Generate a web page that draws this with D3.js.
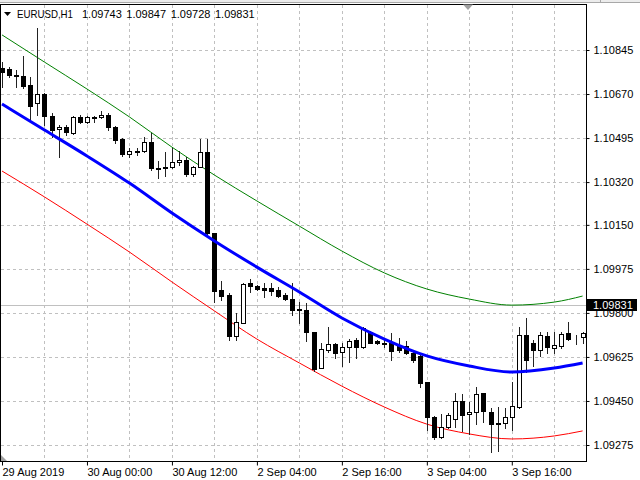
<!DOCTYPE html>
<meta charset="utf-8">
<script src="https://d3js.org/d3.v7.min.js"></script>
<style>
  body { margin: 0; background: #fff; }
  text { font-family: "Liberation Sans", Arial, sans-serif; font-size: 11px; fill: #000; }
</style>
<svg id="chart" width="640" height="480"></svg>
<script>

// hourly OHLC bars, left to right
var openPrices = [1.10773,1.10770,1.10746,1.10742,1.10706,1.10634,1.10670,1.10583,1.10531,1.10539,
  1.10515,1.10579,1.10559,1.10579,1.10579,1.10587,1.10539,1.10491,1.10432,1.10444,
  1.10444,1.10479,1.10376,1.10380,1.10380,1.10400,1.10408,1.10352,1.10380,1.10440,
  1.10118,1.09891,1.09871,1.09708,1.09760,1.09919,1.09907,1.09899,1.09899,1.09891,
  1.09871,1.09855,1.09815,1.09811,1.09724,1.09581,1.09652,1.09676,1.09645,1.09664,
  1.09692,1.09664,1.09724,1.09688,1.09680,1.09680,1.09672,1.09668,1.09641,1.09629,
  1.09525,1.09386,1.09307,1.09346,1.09378,1.09450,1.09398,1.09406,1.09482,1.09406,
  1.09358,1.09362,1.09386,1.09426,1.09712,1.09680,1.09652,1.09708,1.09660,1.09668,
  1.09720,1.09700,1.09704];
var highPrices = [1.10797,1.10777,1.10766,1.10821,1.10738,1.10933,1.10674,1.10595,1.10547,1.10547,
  1.10583,1.10587,1.10583,1.10583,1.10603,1.10595,1.10543,1.10495,1.10455,1.10455,
  1.10499,1.10515,1.10404,1.10440,1.10455,1.10444,1.10420,1.10384,1.10491,1.10491,
  1.10118,1.09927,1.09879,1.09800,1.09919,1.09935,1.09911,1.09919,1.09919,1.09903,
  1.09879,1.09919,1.09843,1.09839,1.09724,1.09680,1.09744,1.09680,1.09680,1.09696,
  1.09700,1.09744,1.09728,1.09692,1.09692,1.09720,1.09700,1.09688,1.09652,1.09641,
  1.09525,1.09390,1.09398,1.09402,1.09482,1.09478,1.09446,1.09505,1.09482,1.09422,
  1.09426,1.09422,1.09525,1.09744,1.09780,1.09692,1.09724,1.09724,1.09724,1.09724,
  1.09764,1.09712,1.09724];
var lowPrices = [1.10698,1.10738,1.10698,1.10694,1.10567,1.10587,1.10547,1.10499,1.10420,1.10507,
  1.10511,1.10555,1.10555,1.10559,1.10575,1.10527,1.10475,1.10424,1.10420,1.10428,
  1.10440,1.10368,1.10336,1.10344,1.10376,1.10388,1.10344,1.10344,1.10380,1.10110,
  1.09843,1.09851,1.09692,1.09692,1.09760,1.09883,1.09891,1.09863,1.09871,1.09863,
  1.09851,1.09792,1.09760,1.09688,1.09569,1.09581,1.09645,1.09621,1.09589,1.09605,
  1.09621,1.09660,1.09680,1.09676,1.09664,1.09613,1.09645,1.09637,1.09605,1.09505,
  1.09335,1.09299,1.09303,1.09343,1.09346,1.09331,1.09319,1.09358,1.09366,1.09247,
  1.09251,1.09343,1.09335,1.09422,1.09565,1.09589,1.09629,1.09641,1.09641,1.09660,
  1.09692,1.09676,1.09680];
var closePrices = [1.10758,1.10746,1.10742,1.10702,1.10622,1.10670,1.10583,1.10527,1.10539,1.10519,
  1.10579,1.10559,1.10579,1.10575,1.10587,1.10539,1.10487,1.10432,1.10444,1.10440,
  1.10479,1.10376,1.10372,1.10376,1.10400,1.10408,1.10352,1.10380,1.10440,1.10118,
  1.09887,1.09867,1.09708,1.09764,1.09915,1.09907,1.09895,1.09891,1.09887,1.09867,
  1.09855,1.09811,1.09811,1.09724,1.09577,1.09656,1.09676,1.09641,1.09664,1.09688,
  1.09664,1.09740,1.09680,1.09680,1.09676,1.09648,1.09652,1.09641,1.09613,1.09521,
  1.09386,1.09307,1.09346,1.09394,1.09450,1.09394,1.09406,1.09478,1.09410,1.09358,
  1.09362,1.09386,1.09430,1.09712,1.09613,1.09652,1.09712,1.09664,1.09672,1.09716,
  1.09696,1.09700,1.09720];

// channel lines, read every 6 bars
var lineBars  = [0,6,12,18,24,30,36,42,48,54,60,66,72,78,82];
var midLine   = [1.10630,1.10527,1.10424,1.10316,1.10197,1.10086,1.09982,1.09883,1.09780,1.09696,1.09629,1.09589,1.09565,1.09581,1.09601];
var upperLine = [1.10905,1.10797,1.10690,1.10579,1.10459,1.10348,1.10245,1.10145,1.10046,1.09959,1.09895,1.09855,1.09831,1.09843,1.09867];
var lowerLine = [1.10364,1.10261,1.10153,1.10042,1.09923,1.09808,1.09696,1.09601,1.09509,1.09426,1.09358,1.09319,1.09299,1.09311,1.09331];

// axes
var priceTicks = [1.10845,1.10670,1.10495,1.10320,1.10150,1.09975,1.09800,1.09625,1.09450,1.09275];
var timeBars = [0,12,24,36,48,60,72];
var timeLabels = ["29 Aug 2019","30 Aug 00:00","30 Aug 12:00","2 Sep 04:00","2 Sep 16:00","3 Sep 04:00","3 Sep 16:00"];
var gridBars = [6,12,18,24,30,36,42,48,54,60,66,72,78];

var symbol = "EURUSD,H1";
var headerValues = ["1.09743","1.09847","1.09728","1.09831"];
var lastPrice = 1.09831;

var plotLeft = 0.5, plotTop = 4.5, plotRight = 586.5, plotBottom = 461.5;

var svg = d3.select("#chart");

var x = d3.scaleLinear().domain([0, 82]).range([2, 582.6]);
var y = d3.scaleLinear().domain([1.09275, 1.10845]).range([445, 50]);

// window strip above the chart
svg.append("rect").attr("x", 0).attr("y", 0).attr("width", 640).attr("height", 2).attr("fill", "#ececec");
svg.append("line").attr("x1", 0).attr("x2", 640).attr("y1", 2.5).attr("y2", 2.5)
  .attr("stroke", "#a8a8a8").attr("shape-rendering", "crispEdges");
svg.append("line").attr("x1", 600.5).attr("x2", 600.5).attr("y1", 0).attr("y2", 2)
  .attr("stroke", "#a8a8a8").attr("shape-rendering", "crispEdges");

svg.append("clipPath").attr("id", "plot")
  .append("rect").attr("x", plotLeft).attr("y", plotTop)
  .attr("width", plotRight - plotLeft).attr("height", plotBottom - plotTop);

// grid
var grid = svg.append("g").attr("stroke", "#c0c0c0").attr("stroke-dasharray", "3,3").attr("shape-rendering", "crispEdges");
grid.selectAll(".h").data(priceTicks).enter().append("line")
  .attr("x1", plotLeft).attr("x2", plotRight)
  .attr("y1", function(d) { return Math.round(y(d)) + 0.5; })
  .attr("y2", function(d) { return Math.round(y(d)) + 0.5; });
grid.selectAll(".v").data(gridBars).enter().append("line")
  .attr("y1", plotTop).attr("y2", plotBottom)
  .attr("x1", function(d) { return Math.round(x(d)) + 0.5; })
  .attr("x2", function(d) { return Math.round(x(d)) + 0.5; });

// last price line
svg.append("line")
  .attr("x1", plotLeft).attr("x2", plotRight)
  .attr("y1", Math.round(y(lastPrice)) + 0.5).attr("y2", Math.round(y(lastPrice)) + 0.5)
  .attr("stroke", "#c0c0c0").attr("shape-rendering", "crispEdges");

var plot = svg.append("g").attr("clip-path", "url(#plot)");

// channel lines
function channel(values) {
  return d3.line()
    .x(function(d, i) { return x(lineBars[i]); })
    .y(function(d) { return y(d); })
    .curve(d3.curveMonotoneX)(values);
}
plot.append("path").attr("d", channel(upperLine)).attr("fill", "none").attr("stroke", "#008000").attr("stroke-width", 1);
plot.append("path").attr("d", channel(lowerLine)).attr("fill", "none").attr("stroke", "#ff0000").attr("stroke-width", 1);

// candles
var bars = d3.range(openPrices.length);
var candle = plot.append("g").attr("shape-rendering", "crispEdges")
  .selectAll("g").data(bars).enter().append("g");

candle.append("line")
  .attr("x1", function(i) { return Math.round(x(i)) + 0.5; })
  .attr("x2", function(i) { return Math.round(x(i)) + 0.5; })
  .attr("y1", function(i) { return Math.round(y(highPrices[i])); })
  .attr("y2", function(i) { return Math.round(y(lowPrices[i])) + 1; })
  .attr("stroke", "#222");

candle.append("rect")
  .attr("x", function(i) { return Math.round(x(i)) - 2 + 0.5; })
  .attr("width", 4)
  .attr("y", function(i) { return Math.round(y(Math.max(openPrices[i], closePrices[i]))) + 0.5; })
  .attr("height", function(i) {
    return Math.round(y(Math.min(openPrices[i], closePrices[i]))) - Math.round(y(Math.max(openPrices[i], closePrices[i])));
  })
  .attr("fill", function(i) { return closePrices[i] > openPrices[i] ? "#fff" : "#000"; })
  .attr("stroke", "#000");

// centre line on top of the candles
plot.append("path").attr("d", channel(midLine)).attr("fill", "none").attr("stroke", "#0000ff").attr("stroke-width", 3);

// frame
svg.append("rect")
  .attr("x", plotLeft).attr("y", plotTop).attr("width", plotRight - plotLeft).attr("height", plotBottom - plotTop)
  .attr("fill", "none").attr("stroke", "#000").attr("shape-rendering", "crispEdges");

// price axis
var yAxis = svg.append("g")
  .attr("transform", "translate(" + plotRight + ",0)")
  .call(d3.axisRight(y).tickValues(priceTicks).tickFormat(d3.format(".5f")).tickSize(3).tickPadding(4));
yAxis.select(".domain").remove();
yAxis.selectAll("text").attr("font-family", null).attr("font-size", null).attr("fill", "#000");
yAxis.selectAll("line").attr("stroke", "#000");

// time axis
var xAxis = svg.append("g")
  .attr("transform", "translate(0," + plotBottom + ")")
  .call(d3.axisBottom(x).tickValues(timeBars).tickFormat(function(d, i) { return timeLabels[i]; }).tickSize(4).tickPadding(3));
xAxis.select(".domain").remove();
xAxis.selectAll("text").attr("font-family", null).attr("font-size", null).attr("fill", "#000")
  .attr("text-anchor", "start").attr("x", 0);
xAxis.selectAll("line").attr("stroke", "#000");

// last price label, drawn over the nearby tick label as in the terminal
var ly = Math.round(y(lastPrice));
svg.append("rect").attr("x", 587).attr("y", ly - 6).attr("width", 50).attr("height", 12).attr("fill", "#000");
svg.append("text").attr("x", 593).attr("y", ly + 4).style("fill", "#fff").text(d3.format(".5f")(lastPrice));

// header
svg.append("path").attr("d", "M4,12 L11,12 L7.5,16 Z").attr("fill", "#000");
svg.append("text").attr("x", 17).attr("y", 18)
  .attr("textLength", 56).attr("lengthAdjust", "spacingAndGlyphs").text(symbol);
svg.append("text").attr("x", 82).attr("y", 18).style("word-spacing", "1.5px").text(headerValues.join(" "));

// small markers
svg.append("path").attr("d", "M463,4.5 L473,4.5 L468,10 Z").attr("fill", "#a0a0a0");
svg.append("path").attr("d", "M1,455 L1,461 L7,461 Z").attr("fill", "#a0a0a0");

</script>
